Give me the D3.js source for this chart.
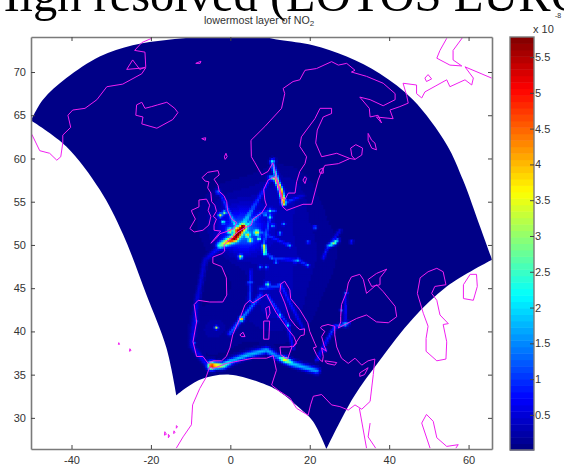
<!DOCTYPE html>
<html><head><meta charset="utf-8">
<script src="https://cdn.jsdelivr.net/npm/d3@7"></script>
<style>html,body{margin:0;padding:0;background:#fff;overflow:hidden}svg{display:block}</style>
</head><body><svg id="c" width="564" height="470"></svg>
<script>
const titleText="High resolved (LOTOS EUROS)";
const subtitleText="lowermost layer of NO";
const lonTicks=[-40,-20,0,20,40,60];
const latTicks=[30,35,40,45,50,55,60,65,70];
const barTicks=[0.5,1,1.5,2,2.5,3,3.5,4,4.5,5,5.5];
const lonDomain=[-50.2,65.9], latDomain=[26.4,74.05], barDomain=[0.01,5.78];

// model domain edge, lon/lat
const edgeTop=[[-50.2,64.4],[-47.2,66.8],[-41.3,69.3],[-32.9,71.8],[-24.6,73.1],[-16.1,73.7],[-7.7,74.05],[-0.1,74.2],[7.9,74.05],[12.5,73.7],[20.8,73.1],[29.3,71.8],[37.7,69.8],[46,66.8],[54.5,61.6],[58.6,57.5],[62.9,52.1],[65.9,48.3]];
const edgeRight=[[65.9,48.3],[54.5,45.2],[46,41.5],[37.7,36.7],[30.9,32.3],[24.2,26.4]];
const edgeBottom=[[24.2,26.4],[20.8,29.6],[17.5,31.1],[12.5,33],[9.1,33.8],[-0.1,35],[-7.7,34.4],[-13.6,32.6]];
const edgeLeft=[[-13.6,32.6],[-16.1,38.1],[-21.1,44.2],[-27,51.2],[-32.9,56.4],[-41.3,61.4],[-50.2,64.4]];

// coast outlines, lon/lat
const greenland=[[-19.8,73.9],[-22.3,73.4],[-24.1,72.5],[-21.5,72.3],[-21.3,70.6],[-22.8,70.3],[-24.6,71.4],[-26.1,70.3],[-21.3,70.5],[-22.3,69.8],[-27.1,68.6],[-31.1,68.3],[-33.6,66.8],[-36.6,65.8],[-39.7,65.6],[-40.9,65],[-40.2,63.6],[-42.2,62.7],[-42.2,61.8],[-42.7,60.2],[-43.7,59.8],[-45.5,60.6],[-48,60.9],[-50,62.8]];
const iceland=[[-23.6,66.2],[-22.3,66.5],[-21.5,65.8],[-19.8,66],[-18.3,66.2],[-16,66.5],[-14,65.8],[-13.2,65.3],[-14.5,64.5],[-18.5,63.5],[-22.3,64],[-22,64.8],[-23.8,65],[-23.6,66.2]];
const britain=[[-5.7,58.4],[-3.1,58.6],[-2.8,58.1],[-4.1,57.6],[-3.1,56.9],[-2.8,56.2],[-1.6,55.7],[-0.9,55],[-0.7,54],[0.3,53],[1.6,52.6],[0.9,51.9],[-0.6,51.6],[-2.6,51.3],[-3.7,50.7],[-4.9,50.2],[-2.4,51.6],[-4.1,51.7],[-4.1,52.3],[-3.5,53],[-4.3,53.3],[-3.5,53.9],[-3.9,54.6],[-4.7,55],[-4.9,56],[-5.7,56.6],[-5.4,57.3],[-6.4,57.4],[-7.1,57.8],[-5.7,58.4]];
const ireland=[[-7.9,55.2],[-6,55.3],[-5.2,54.6],[-5.6,54],[-4.9,53.3],[-5.4,52.3],[-6.9,51.7],[-9.1,51.5],[-10.2,51.9],[-8.8,53],[-9.6,53.7],[-9.8,54],[-7.9,54.4],[-7.9,55.2]];
const westernMainland=[[11.2,57.9],[9.5,57.5],[8.4,56.4],[8.7,55.2],[9.1,54.6],[7.9,53.7],[5.7,53],[5.3,52.3],[3.7,52],[1.9,51.5],[0.3,50.8],[-1,50.3],[-1.6,50],[-1.4,49.3],[-2.1,49],[-4.4,48.6],[-4.4,47.9],[-2.2,47.5],[-1,46.2],[-0.9,44.2],[-1.9,43.4],[-5.2,43.4],[-8.1,43.6],[-9.1,43.1],[-8.5,41.1],[-9.4,38.8],[-8.5,37.1],[-6.9,37.1],[-5.6,36.3],[-4.3,36.6],[-2.2,36.6],[-1,37.1],[-0.1,38.1],[0.6,39.6],[2.4,41.5],[3.7,43.1],[4.9,43.6],[5.7,43.3],[9.1,44.3],[10.1,43.4],[11.5,42.2],[13.2,41.1],[14.6,40.2],[16,39.4],[16.7,38.6],[15.8,38.2],[17.7,39.5],[18.6,39.6],[18.7,40.3],[17.5,40.2],[16.5,40.6],[15,41.5],[13.7,43.3],[12.5,44.6],[12.7,45.5],[13.7,45.8],[15,44.8],[15.2,43.8],[17.5,42.5],[19.5,41],[20,40],[21.3,38.6],[21.7,38.2],[20.9,38.1],[21.7,37.3],[22.6,36.7],[23.2,36.5],[23.4,37.1],[23,38.1],[24.2,37.7],[23.6,38.4],[23,39.4],[23.8,40],[22.7,40.4],[23,40.6],[24.6,40.8],[26.3,40.6],[26.3,39.6],[26.8,38.2],[28,36.9],[29.7,36.3],[31.4,36.9],[33.1,36.1],[34.7,36.6],[36.4,36.8],[36,35],[35.2,31.9],[33.1,31],[31.4,31.5],[29.7,30.9],[27.6,31.3],[25.5,31.5],[23,32.7],[20.9,32.5],[20.2,31.5],[19.6,30.3],[16.7,31.1],[15,32.3],[12,33.2],[10.4,33.8],[11.6,35.5],[10.8,37.2],[9.1,36.9],[5.7,36.9],[-1,36.3],[-4.3,35.7],[-5.2,35.9],[-6.2,34.6],[-7.7,33.4],[-9.5,31.5],[-9.8,29.2],[-11.9,27.8],[-13.6,26.5]];
const northernMainland=[[11.2,57.9],[12,56.9],[12.7,55.7],[13.2,54.4],[14.2,54],[18.3,54.7],[20.5,54.7],[22.1,57.5],[22.6,58.1],[23.8,59.2],[27.2,59.4],[30.1,60],[26.8,60.6],[23,60.2],[21.5,61.8],[21.9,63.3],[23.4,64.8],[25.5,65.2],[25.5,65.8],[22.6,65.8],[21.3,64.6],[17.9,62.5],[17.5,61.4],[19.2,60.2],[18.8,59.4],[17.5,58.5],[16.7,57.3],[16.3,56],[14.6,56],[13.7,55.2],[13,55.5],[10.7,59.5],[9.5,58.5],[7.9,58.1],[6.2,59.5],[5.3,60.2],[5.2,62.1],[8.7,63.7],[12.9,65.8],[13.7,67.5],[13.3,68.1],[15.8,68.9],[17.5,69.1],[18.8,70.2],[21.7,70.4],[25.5,71.2],[27.2,70.8],[29.3,71],[31.4,70.2],[30.5,70],[34.3,69.5],[38.5,68.7],[41.5,67.5],[41.5,66.8],[38.5,66.1],[35.2,66.8],[32.6,67.1],[35,65.8],[35.2,64.8],[37.2,65],[38.1,64.1],[36.8,64.8],[41,64.6],[40.2,65.6],[42.7,66],[44.8,66.4],[44.4,67.3],[43.5,68.7],[46.9,68.5],[46.9,67.5],[48.2,67],[49,67.7],[54.5,69.1],[55.3,68.3],[59.1,69.1],[60.8,68.5],[61.2,69.3],[59.1,70.6],[65.8,69.3]];
const ladoga=[[30.1,60],[31.4,59.9],[33.1,60.4],[33.3,61.2],[31.6,61.6],[30.3,61.2],[30.6,60.3],[31.4,59.9]];
const novayaZemlya=[[58.5,74],[56.1,72.5],[56.1,71.4],[58.3,70.7],[55.3,70.8],[52,71.6],[52.8,72.5],[54.5,73.9]];
const kolguev=[[49,69.3],[49.8,69.7],[50.7,69.2],[49.4,68.9],[49,69.3]];
const onega=[[34.7,62.9],[35.6,62.1],[36.4,61.8],[36.8,61],[35.6,61.2],[34.7,62.1],[34.7,62.9]];
const gotland=[[18.8,57.9],[19.2,57.7],[18.8,57.1],[18.3,57.5],[18.8,57.9]];
const saaremaa=[[22.4,58.7],[23.4,58.9],[23.4,58.3],[22.6,58.3],[22.4,58.7]];
const blackSea=[[30.5,46.3],[32.6,46.6],[33.5,46],[34.3,44.4],[36.8,45.4],[38.5,44.6],[41.5,42.9],[41.9,41.7],[39.8,41],[36.8,41.1],[34.3,41.9],[31.8,41.5],[29.3,40.9],[27.2,40.4],[27.8,41.1],[27.8,41.7],[28,43.1],[29.3,44.6],[29.7,45.6],[30.5,46.3]];
const azov=[[34.7,46],[36.8,46.7],[39.4,47.2],[37.7,46.2],[37.7,45.4],[35.6,45.2],[34.7,46]];
const caspian=[[52,47.3],[53.6,46.9],[54.3,45.4],[51.5,45.2],[50.7,44.4],[52,43.6],[52.8,41.9],[54.9,40.9],[53.6,40.8],[54.5,38.8],[54.3,36.8],[52,36.6],[49.3,37.7],[49.3,39.2],[49.8,40.6],[48.6,42.1],[47.1,44.4],[47.8,46.2],[49.8,46.9],[52,47.3]];
const aral=[[60.4,46.6],[62,46.6],[62.2,45.2],[61.2,43.6],[58.7,43.8],[58.7,45.4],[60.4,46.6]];
const suez=[[32.5,31.1],[34.3,26.5]];
const aqaba=[[35.2,29.4],[34.7,27.8],[36.6,26.5]];
const gulfNorth=[[48.2,29.4],[49.4,30.4],[51.1,29.6],[52,27.7],[54.5,26.7],[57.4,26.9],[56.8,26.5]];
const gulfSouth=[[48.2,29.4],[50.3,26.5]];
const corsica=[[8.9,42.7],[9.8,42.9],[10,42.1],[9.3,41.4],[8.9,42.7]];
const sardinia=[[8.4,41.2],[9.9,41.2],[9.7,39.1],[8.4,39.1],[8.4,41.2]];
const mallorca=[[2.4,39.6],[3.2,39.9],[3.7,39.4],[2.8,39.4],[2.4,39.6]];
const sicily=[[12.5,38.2],[14.8,38.2],[15.6,38.3],[14.4,36.8],[12.7,37.3],[12.5,38.2]];
const crete=[[23.8,36.6],[26.8,36.4],[26.3,36.1],[24.3,36.3],[23.8,36.6]];
const cyprus=[[32.6,35.2],[34.7,35.8],[33.8,35],[32.6,34.8],[32.6,35.2]];
const janMayen=[[-8.7,71],[-7.4,71.25],[-7.6,71],[-8.7,71]];
const faroes=[[-7.2,62.3],[-6.2,62.4],[-6.3,62.1],[-7.2,62.3]];
const shetland=[[-1.1,60.6],[-0.8,60.2],[-1.3,59.9],[-1.5,60.2],[-1.1,60.6]];
const azores1=[[-28.1,38.7],[-27.9,38.5],[-28.2,38.5],[-28.1,38.7]];
const azores2=[[-25.3,38],[-25,37.8],[-25.4,37.7],[-25.3,38]];
const canary1=[[-16.5,28.4],[-16.1,28.1],[-16.6,28],[-16.5,28.4]];
const canary2=[[-15.6,28.1],[-15.3,27.9],[-15.6,27.7],[-15.6,28.1]];
const canary3=[[-14.2,28.5],[-13.9,28.3],[-14.3,28.2],[-14.2,28.5]];
const canary4=[[-13.6,29.1],[-13.3,29],[-13.6,28.8],[-13.6,29.1]];
const coastlines=[greenland,iceland,britain,ireland,westernMainland,northernMainland,ladoga,novayaZemlya,kolguev,onega,gotland,saaremaa,blackSea,azov,caspian,aral,suez,aqaba,gulfNorth,gulfSouth,corsica,sardinia,mallorca,sicily,crete,cyprus,janMayen,faroes,shetland,azores1,azores2,canary1,canary2,canary3,canary4];

// NO2: [lon, lat, value x 1e-8, spread in degrees]
const broadHaze=[[3.2,51.6,1.1,3.2],[1,53,0.3,6],[13.7,49.4,0.28,9],[11,42.5,0.25,6],[-4.6,40.2,0.2,5],[13,56,0.22,5]];
const hotSpots=[[1.97,51.7,4.2,0.7],[3.15,52.1,5.2,0.6],[-2.5,53.5,3,0.35],[-0.1,51.7,3,0.45],[4.4,51.2,2.8,0.4],[6.7,51.5,3,0.45],[2.6,48.7,3.2,0.35],[10.6,59.7,2.2,0.45],[10,54,2,0.35],[10,53.3,2,0.35],[21.3,52.1,1.5,0.3],[19.6,50.4,1.1,0.3],[15,50,1.4,0.3],[17.1,48.3,1.7,0.3],[19.5,47.7,1.4,0.3],[9.1,47.5,1.2,0.3],[9.4,45.5,2.4,0.4],[12.5,41.9,1.9,0.33],[14.5,40.8,1.9,0.33],[5.3,45.8,1.1,0.3],[2.8,41.5,4.4,0.4],[-3.5,40.5,3,0.3],[28.9,40.9,2,0.45],[28,42.5,1.5,0.28],[29.1,44.5,1.4,0.28],[-3.1,56.2,1.3,0.4],[-4.7,36.1,5.2,0.7],[13.7,36.8,3.9,0.5],[13.3,55,3,0.4],[-1.8,52.7,2.2,0.3],[-1.5,53.8,2.4,0.35],[5,50.6,2.6,0.35],[7.2,50.8,2.3,0.3],[8.8,53.6,1.8,0.3],[10.7,52.3,1.4,0.3],[12.5,51.4,1.5,0.3],[10.4,48.6,1.4,0.3],[13.4,52.5,1.2,0.3],[16.3,48.2,1.4,0.3],[14.4,50.1,1.1,0.3],[11.5,48.1,1.3,0.3],[7.6,47.5,1.2,0.3],[4.8,45.7,1.4,0.3],[-8.6,41.2,1.2,0.3],[-9.1,38.7,1.2,0.3],[12.3,45.4,1.3,0.3],[23.7,37.9,1.3,0.3],[30.5,50.4,1,0.3]];
const channelLane=[[-2.6,50,2.4],[1.1,50.8,4.8],[2.8,51.9,4.8]];
const kattegatEast=[[10.8,59.2,1.8],[13.3,55.2,3.5]];
const kattegatWest=[[10,57.9,1.3],[11.5,57.7,3.6],[12.7,56.4,4.4],[13.5,54.9,4]];
const northSeaA=[[2.8,52.3,1],[8.2,56.4,0.35]];
const northSeaB=[[3.7,52.1,1],[7.9,53.8,0.8],[11.2,54,0.9]];
const northSeaC=[[1.1,52.5,1.1],[-2.6,56.1,0.6]];
const northSeaD=[[3.2,52.2,0.9],[10,57.7,0.5]];
const balticLane=[[13.5,54.9,0.9],[18.3,55.8,0.25]];
const ukrainePlume=[[24.6,49.9,1.4],[26.2,50.3,3.1],[26.9,50.6,1.9]];
const rhineMain=[[8.5,50,3],[8.7,49.1,2.6]];
const danubeLine=[[8.7,49.1,0.9],[11.2,48.5,0.7],[17.1,48.3,0.75],[19.5,47.7,0.8]];
const eastLineA=[[27.6,51.7,0.5],[24.6,49.9,0.8]];
const eastLineB=[[23.4,48.5,0.6],[24.6,49.9,0.8]];
const germanLineA=[[10,53.3,0.75],[8.4,50,0.75]];
const germanLineB=[[7.9,51.5,0.6],[15,50,0.5]];
const medLane=[[-4.7,36.1,5],[-1.8,36.1,2.9],[0.6,36.7,1.7],[4.1,37.3,1.8],[9.1,37.9,1.7],[12,37.1,1.4],[13.7,36.8,3.6],[15.8,36.3,1.9],[21.7,35.5,1.6]];
const catalanCoast=[[-0.1,39.8,1],[2.8,41.5,1.5],[5.3,42.9,1.1],[7.7,44.3,0.8]];
const biscayLane=[[-2.1,50,0.7],[-6.4,48.3,0.45],[-8.4,43.6,0.5],[-9.7,38.4,0.45],[-5.7,36.1,0.8]];
const aegeanLane=[[21.7,36.7,0.8],[23.3,38.2,0.7],[26.3,40.6,1.1],[29.6,41,1.5]];
const adriaticLane=[[12.7,45.5,0.6],[18.3,40.4,0.5]];
const tyrrhenianLane=[[9.4,44.2,0.7],[12.5,42.1,0.7],[14.5,40.8,0.7],[15.8,38.1,0.6]];
const poValley=[[7.5,45,0.75],[12,45.3,0.75]];
const rhoneValley=[[5.2,47.1,0.55],[4.9,43.6,0.9]];
const blackSeaLane=[[29,44.5,0.7],[28.8,41,0.7]];
const lanes=[channelLane,kattegatEast,kattegatWest,northSeaA,northSeaB,northSeaC,northSeaD,balticLane,ukrainePlume,rhineMain,danubeLine,eastLineA,eastLineB,germanLineA,germanLineB,medLane,catalanCoast,biscayLane,aegeanLane,adriaticLane,tyrrhenianLane,poValley,rhoneValley,blackSeaLane];
const laneSpreads=[0.6,0.35,0.38,0.28,0.28,0.28,0.28,0.28,0.33,0.33,0.25,0.25,0.25,0.25,0.25,0.55,0.35,0.45,0.3,0.28,0.28,0.3,0.28,0.28];

const svg=d3.select("#c");
const x=d3.scaleLinear().domain(lonDomain).range([31,492]);
const y=d3.scaleLinear().domain(latDomain).range([449,37]);
const yBar=d3.scaleLinear().domain(barDomain).range([450,37]);

// 64-step jet colour map
const jet=d3.range(64).map(i=>{
  const t=(i+0.5)/64, c=v=>Math.round(255*Math.max(0,Math.min(1,v)));
  return d3.rgb(c(1.5-Math.abs(4*t-3)),c(1.5-Math.abs(4*t-2)),c(1.5-Math.abs(4*t-1))).formatHex();
});
const colour=d3.scaleQuantize().domain(barDomain).range(jet);

const defs=svg.append("defs");
defs.append("clipPath").attr("id","plot").append("rect").attr("x",x.range()[0]).attr("y",y.range()[1])
  .attr("width",x.range()[1]-x.range()[0]).attr("height",y.range()[0]-y.range()[1]);
const soft=defs.append("filter").attr("id","soft").attr("x","-5%").attr("y","-5%").attr("width","110%").attr("height","110%");
soft.append("feGaussianBlur").attr("stdDeviation",0.45);
const soft2=defs.append("filter").attr("id","soft2").attr("x","-5%").attr("y","-5%").attr("width","110%").attr("height","110%");
soft2.append("feGaussianBlur").attr("stdDeviation",0.3);

// four curved edges joined into one outline
const ctx=d3.path(); let started=false;
const joiner={
  moveTo(a,b){ if(started) ctx.lineTo(a,b); else {ctx.moveTo(a,b); started=true;} },
  lineTo(a,b){ ctx.lineTo(a,b); },
  bezierCurveTo(a,b,c,d,e,f){ ctx.bezierCurveTo(a,b,c,d,e,f); },
  closePath(){}
};
const edge=d3.line().x(d=>x(d[0])).y(d=>y(d[1])).curve(d3.curveCatmullRom).context(joiner);
[edgeTop,edgeRight,edgeBottom,edgeLeft].forEach(a=>edge(a));
ctx.closePath();
const edgePath=ctx.toString();
defs.append("clipPath").attr("id","dom").append("path").attr("d",edgePath);

const plot=svg.append("g").attr("clip-path","url(#plot)");
plot.append("path").attr("d",edgePath).attr("fill",jet[0]);

// field on the model grid
function field(lon,lat){
  const px=x(lon),py=y(lat),deg=x(1)-x(0);
  let hz=0,mx=0;
  for(const h of broadHaze){const s=h[3]*deg,dx=px-x(h[0]),dy=py-y(h[1]);hz+=h[2]*Math.exp(-(dx*dx+dy*dy)/(2*s*s));}
  for(const h of hotSpots){const s=h[3]*deg,dx=px-x(h[0]),dy=py-y(h[1]);mx=Math.max(mx,h[2]*Math.exp(-(dx*dx+dy*dy)/(2*s*s)));}
  lanes.forEach((l,k)=>{
    const s=laneSpreads[k]*deg;
    for(let i=0;i<l.length-1;i++){
      const ax=x(l[i][0]),ay=y(l[i][1]),bx=x(l[i+1][0]),by=y(l[i+1][1]);
      const vx=bx-ax,vy=by-ay,t=Math.max(0,Math.min(1,((px-ax)*vx+(py-ay)*vy)/(vx*vx+vy*vy)));
      const dx=px-ax-t*vx,dy=py-ay-t*vy,v=l[i][2]+t*(l[i+1][2]-l[i][2]);
      mx=Math.max(mx,v*Math.exp(-(dx*dx+dy*dy)/(2*s*s)));
    }
  });
  return mx+hz;
}
const cells=[];
for(const lon of d3.range(-30,60,0.5))for(const lat of d3.range(27,72,0.25)){
  const v=field(lon,lat); if(v>0.1)cells.push({lon,lat,v});
}
plot.append("g").attr("clip-path","url(#dom)").append("g").attr("filter","url(#soft)")
  .selectAll("rect").data(cells).join("rect")
  .attr("x",d=>x(d.lon-0.25)).attr("y",d=>y(d.lat+0.125))
  .attr("width",x(0.5)-x(0)+0.6).attr("height",y(0)-y(0.25)+0.6)
  .attr("fill",d=>colour(d.v));

const coast=d3.line().x(d=>x(d[0])).y(d=>y(d[1]));
plot.append("g").attr("filter","url(#soft2)").selectAll("path").data(coastlines).join("path")
  .attr("d",coast).attr("fill","none").attr("stroke","#f020f0").attr("stroke-width",1);

// axes
const grey="#7a7a7a", ink="#333333", font="'Liberation Sans',Arial,sans-serif";
function styleAxis(g){
  g.selectAll(".domain").attr("stroke",grey).attr("stroke-width",1.6);
  g.selectAll("line").attr("stroke","#444").attr("stroke-width",1);
  g.selectAll("text").attr("fill",ink).attr("font-family",font).attr("font-size",11);
}
const fmt=d=>String(d);
svg.append("g").attr("transform",`translate(0,${y.range()[0]})`)
  .call(d3.axisBottom(x).tickValues(lonTicks).tickSize(-4).tickSizeOuter(0).tickPadding(7).tickFormat(fmt)).call(styleAxis);
svg.append("g").attr("transform",`translate(${x.range()[0]},0)`)
  .call(d3.axisLeft(y).tickValues(latTicks).tickSize(-4).tickSizeOuter(0).tickPadding(5).tickFormat(fmt)).call(styleAxis);
svg.append("g").attr("transform",`translate(0,${y.range()[1]})`)
  .call(d3.axisTop(x).tickValues(lonTicks).tickSize(-4).tickSizeOuter(0).tickFormat("")).call(styleAxis);
svg.append("g").attr("transform",`translate(${x.range()[1]},0)`)
  .call(d3.axisRight(y).tickValues(latTicks).tickSize(-4).tickSizeOuter(0).tickFormat("")).call(styleAxis);

// colour bar
const barX=510, barW=24, step=(barDomain[1]-barDomain[0])/64;
svg.append("g").selectAll("rect").data(jet).join("rect")
  .attr("x",barX).attr("width",barW)
  .attr("y",(d,i)=>yBar(barDomain[0]+(i+1)*step)).attr("height",yBar(0)-yBar(step)+0.5)
  .attr("fill",d=>d);
svg.append("rect").attr("x",barX).attr("y",37).attr("width",barW).attr("height",413)
  .attr("fill","none").attr("stroke",grey).attr("stroke-width",1.4);
svg.append("g").attr("transform",`translate(${barX+barW},0)`)
  .call(d3.axisRight(yBar).tickValues(barTicks).tickSize(-4).tickSizeOuter(0).tickPadding(1).tickFormat(fmt)).call(styleAxis)
  .selectAll(".domain").remove();

// text
svg.append("text").attr("x",-15.6).attr("y",11).attr("font-family","'Liberation Serif','Times New Roman',serif")
  .attr("font-size",48.5).attr("fill","#000").text(titleText);
const st=svg.append("text").attr("x",204).attr("y",23.5).attr("font-family",font).attr("font-size",10.7).attr("fill",ink).text(subtitleText);
st.append("tspan").attr("font-size",8).attr("dy",2.5).text("2");
svg.append("text").attr("x",533).attr("y",33).attr("font-family",font).attr("font-size",11).attr("fill",ink).text("x 10");
svg.append("text").attr("x",555).attr("y",18).attr("font-family",font).attr("font-size",7).attr("fill",ink).text("-8");
</script></body></html>
